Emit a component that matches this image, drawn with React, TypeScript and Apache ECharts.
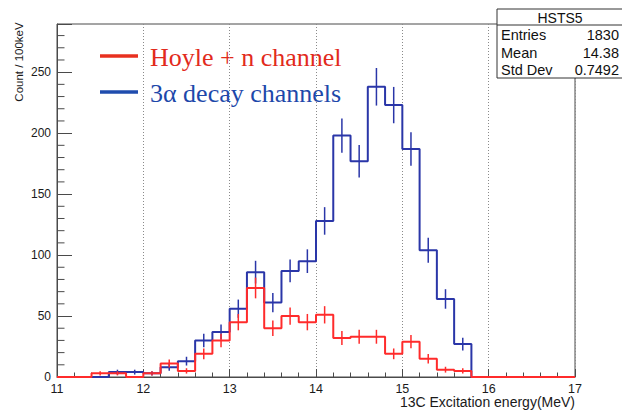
import React, { useEffect, useRef } from "react";
import * as echarts from "echarts";

// Histogram binning: 30 bins of 0.2 MeV from 11 to 17 MeV
const BIN_MIN = 11;
const BIN_WIDTH = 0.2;
const X_MIN = 11;
const X_MAX = 17;
const Y_MAX = 289.5;

// Counts per bin (3-alpha decay channels, HSTS5)
const alphaCounts = [0, 0, 0, 4, 4, 3, 8, 13, 30, 37, 56, 86, 61, 87, 95, 128, 198, 177, 238, 223, 187, 104, 64, 27, 0, 0, 0, 0, 0, 0];
const alphaErrors = [0, 0, 0, 2.0, 2.0, 1.7, 2.8, 3.6, 5.5, 6.1, 7.5, 9.3, 7.8, 9.3, 9.7, 11.3, 14.1, 13.3, 15.4, 14.9, 13.7, 10.2, 8.0, 5.2, 0, 0, 0, 0, 0, 0];

// Counts per bin (Hoyle + n channel)
const hoyleCounts = [0, 0, 3, 3, 0, 3, 11, 5, 19, 30, 45, 73, 40, 50, 45, 51, 32, 33, 33, 19, 29, 15, 6, 5, 0, 0, 0, 0, 0, 0];
const hoyleErrors = [0, 0, 1.7, 1.7, 0, 1.7, 3.3, 2.2, 4.4, 5.5, 6.7, 8.5, 6.3, 7.1, 6.7, 7.1, 5.7, 5.7, 5.7, 4.4, 5.4, 3.9, 2.4, 2.2, 0, 0, 0, 0, 0, 0];

// Statistics box
const statsTitle = "HSTS5";
const statsLabels = ["Entries", "Mean", "Std Dev"];
const statsValues = ["1830", "14.38", "0.7492"];

const legendLabels = ["Hoyle + n channel", "3\u03b1 decay channels"];

const RED = "#ff2b2b";
const BLUE = "#2a36a8";
const AXIS = "#4a4a4a";
const SANS = "'Liberation Sans', Arial, Helvetica, sans-serif";
const SERIF = "'Liberation Serif', 'Times New Roman', serif";

function stepData(counts: number[]) {
  const pts: number[][] = counts.map((c, i) => [BIN_MIN + i * BIN_WIDTH, c]);
  pts.push([X_MAX, counts[counts.length - 1]]);
  return pts;
}

function errorData(counts: number[], errs: number[]) {
  const out: number[][] = [];
  counts.forEach((c, i) => {
    if (c > 0) out.push([BIN_MIN + (i + 0.5) * BIN_WIDTH, c, errs[i]]);
  });
  return out;
}

function errorSeries(name: string, counts: number[], errs: number[], color: string) {
  return {
    name,
    type: "custom",
    data: errorData(counts, errs),
    encode: { x: 0, y: 1 },
    z: 5,
    renderItem: (_p: any, api: any) => {
      const x = api.value(0);
      const v = api.value(1);
      const e = api.value(2);
      const a = api.coord([x, v + e]);
      const b = api.coord([x, v - e]);
      return {
        type: "line",
        shape: { x1: a[0], y1: a[1], x2: b[0], y2: b[1] },
        style: { stroke: color, lineWidth: 1.5 },
      };
    },
  };
}

// Minor ticks on the y axis every 10 counts
const yMinorTicks: number[][] = [];
for (let v = 10; v < Y_MAX; v += 10) {
  if (v % 50 !== 0) yMinorTicks.push([X_MIN, v]);
}

export default function App() {
  const ref = useRef<HTMLDivElement>(null);

  useEffect(() => {
    if (!ref.current) return;
    const chart = echarts.init(ref.current, null, { renderer: "svg" });

    const option: any = {
      animation: false,
      backgroundColor: "#ffffff",
      grid: {
        left: 57,
        right: 47,
        top: 24,
        bottom: 35,
        show: true,
        borderColor: AXIS,
        borderWidth: 1,
        backgroundColor: "transparent",
        outerBoundsMode: "none",
      },
      xAxis: {
        type: "value",
        min: X_MIN,
        max: X_MAX,
        interval: 1,
        axisLine: { show: true, lineStyle: { color: AXIS, width: 1 } },
        axisTick: { show: true, inside: true, length: 8, lineStyle: { color: AXIS } },
        minorTick: { show: true, splitNumber: 5, length: 4.5, lineStyle: { color: AXIS } },
        axisLabel: {
          color: "#1a1a1a",
          fontFamily: SANS,
          fontSize: 12.5,
          margin: 5,
        },
        splitLine: { show: true, lineStyle: { color: "#8a8a8a", type: [1, 2], width: 1 } },
      },
      yAxis: {
        type: "value",
        min: 0,
        max: Y_MAX,
        interval: 50,
        axisLine: { show: true, lineStyle: { color: AXIS, width: 1 } },
        axisTick: { show: true, inside: true, length: 15, lineStyle: { color: AXIS } },
        minorTick: { show: false },
        axisLabel: {
          color: "#1a1a1a",
          fontFamily: SANS,
          fontSize: 12,
          margin: 6,
          formatter: (v: number) => (v % 50 === 0 ? String(v) : ""),
        },
        splitLine: { show: false },
      },
      series: [
        {
          name: "y minor ticks",
          type: "custom",
          data: yMinorTicks,
          encode: { x: 0, y: 1 },
          silent: true,
          renderItem: (_p: any, api: any) => {
            const p = api.coord([api.value(0), api.value(1)]);
            return {
              type: "line",
              shape: { x1: p[0], y1: p[1], x2: p[0] + 7.5, y2: p[1] },
              style: { stroke: AXIS, lineWidth: 1 },
            };
          },
        },
        {
          name: legendLabels[1],
          type: "line",
          step: "end",
          data: stepData(alphaCounts),
          symbol: "none",
          lineStyle: { color: BLUE, width: 2 },
          z: 3,
        },
        {
          name: legendLabels[0],
          type: "line",
          step: "end",
          data: stepData(hoyleCounts),
          symbol: "none",
          lineStyle: { color: RED, width: 2 },
          z: 4,
        },
        errorSeries("alpha errors", alphaCounts, alphaErrors, BLUE),
        errorSeries("hoyle errors", hoyleCounts, hoyleErrors, RED),
      ],
      graphic: [
        // axis titles
        {
          type: "text",
          x: 19,
          y: 62,
          rotation: Math.PI / 2,
          style: {
            text: "Count / 100keV",
            fill: "#1a1a1a",
            font: `11.5px ${SANS}`,
            align: "center",
            verticalAlign: "middle",
          },
        },
        {
          type: "text",
          x: 575,
          y: 402,
          style: {
            text: "13C Excitation energy(MeV)",
            fill: "#1a1a1a",
            font: `14px ${SANS}`,
            align: "right",
            verticalAlign: "middle",
          },
        },
        // legend
        {
          type: "line",
          shape: { x1: 100, y1: 56, x2: 138, y2: 56 },
          style: { stroke: "#e8301f", lineWidth: 3.5 },
        },
        {
          type: "text",
          x: 150,
          y: 57,
          style: {
            text: legendLabels[0],
            fill: "#e22a1c",
            font: `26px ${SERIF}`,
            align: "left",
            verticalAlign: "middle",
          },
        },
        {
          type: "line",
          shape: { x1: 100, y1: 92, x2: 138, y2: 92 },
          style: { stroke: "#1f4cae", lineWidth: 3.5 },
        },
        {
          type: "text",
          x: 150,
          y: 93,
          style: {
            text: legendLabels[1],
            fill: "#1d48aa",
            font: `26px ${SERIF}`,
            align: "left",
            verticalAlign: "middle",
          },
        },
        // statistics box
        {
          type: "rect",
          shape: { x: 497, y: 9, width: 126, height: 69 },
          style: { fill: "#ffffff", stroke: "#333333", lineWidth: 1 },
          z: 10,
        },
        {
          type: "line",
          shape: { x1: 497, y1: 25, x2: 623, y2: 25 },
          style: { stroke: "#333333", lineWidth: 1 },
          z: 11,
        },
        {
          type: "text",
          x: 560,
          y: 17.5,
          z: 11,
          style: {
            text: statsTitle,
            fill: "#111111",
            font: `14px ${SANS}`,
            align: "center",
            verticalAlign: "middle",
          },
        },
        ...statsLabels.map((label, i) => ({
          type: "text",
          x: 501,
          y: 35 + i * 17.5,
          z: 11,
          style: {
            text: label,
            fill: "#111111",
            font: `14.5px ${SANS}`,
            align: "left",
            verticalAlign: "middle",
          },
        })),
        ...statsValues.map((val, i) => ({
          type: "text",
          x: 619,
          y: 35 + i * 17.5,
          z: 11,
          style: {
            text: val,
            fill: "#111111",
            font: `14.5px ${SANS}`,
            align: "right",
            verticalAlign: "middle",
          },
        })),
      ],
    };

    chart.setOption(option);
    return () => chart.dispose();
  }, []);

  return (
    <div
      ref={ref}
      style={{ position: "fixed", left: 0, top: 0, width: 622, height: 412 }}
    />
  );
}
